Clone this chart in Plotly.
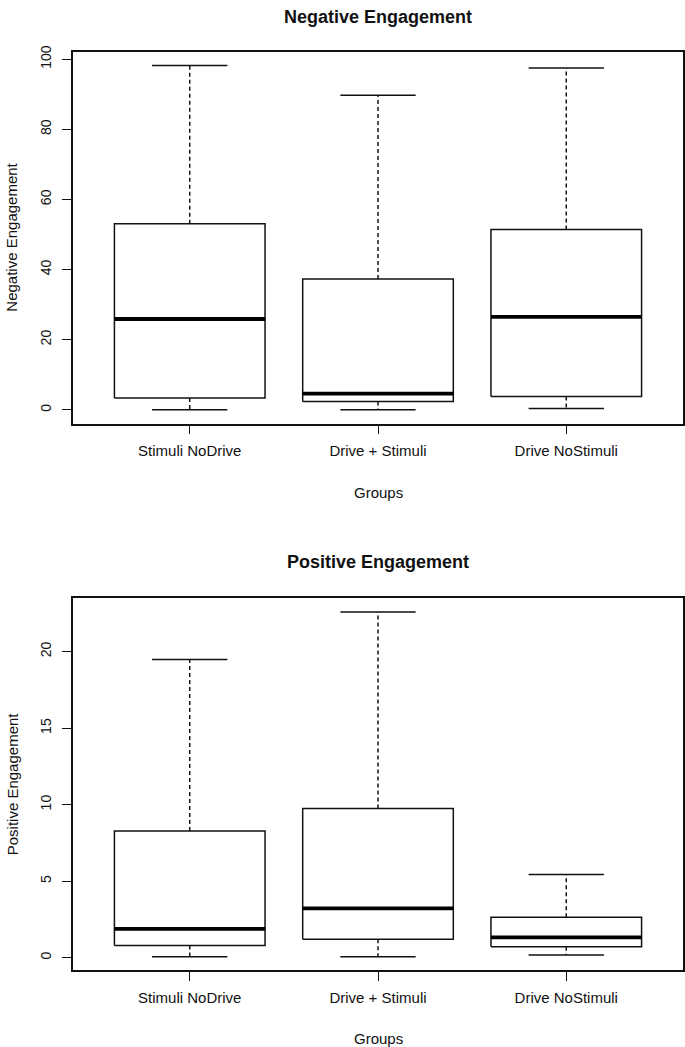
import plotly.graph_objects as go

# ---- data ----
groups = ["Stimuli NoDrive", "Drive + Stimuli", "Drive NoStimuli"]

neg_lower = [0.0, 0.0, 0.4]
neg_q1 = [3.4, 2.4, 3.8]
neg_median = [25.9, 4.6, 26.5]
neg_q3 = [53.1, 37.3, 51.4]
neg_upper = [98.2, 89.7, 97.5]

pos_lower = [0.07, 0.07, 0.18]
pos_q1 = [0.8, 1.2, 0.72]
pos_median = [1.89, 3.23, 1.33]
pos_q3 = [8.28, 9.75, 2.65]
pos_upper = [19.49, 22.6, 5.44]

neg_ticks = [0, 20, 40, 60, 80, 100]
pos_ticks = [0, 5, 10, 15, 20]

# ---- layout constants (pixels) ----
W, H = 685, 1047
FONT = "Liberation Sans, Arial, Helvetica, sans-serif"
BOXW = 0.4
CAPW = 0.2
LC = "#111"

fig = go.Figure()


def add_boxes(xa, ya, lower, q1, med, q3, upper):
    for i, _ in enumerate(groups):
        x = i + 1
        # box
        fig.add_trace(go.Scatter(
            x=[x - BOXW, x + BOXW, x + BOXW, x - BOXW, x - BOXW],
            y=[q1[i], q1[i], q3[i], q3[i], q1[i]],
            mode="lines", line=dict(color=LC, width=1.5),
            xaxis=xa, yaxis=ya, showlegend=False, hoverinfo="skip"))
        # whiskers (dashed)
        fig.add_trace(go.Scatter(
            x=[x, x, None, x, x],
            y=[q3[i], upper[i], None, q1[i], lower[i]],
            mode="lines", line=dict(color=LC, width=1.5, dash="4px,3px"),
            xaxis=xa, yaxis=ya, showlegend=False, hoverinfo="skip"))
        # staples
        fig.add_trace(go.Scatter(
            x=[x - CAPW, x + CAPW, None, x - CAPW, x + CAPW],
            y=[upper[i], upper[i], None, lower[i], lower[i]],
            mode="lines", line=dict(color=LC, width=1.5),
            xaxis=xa, yaxis=ya, showlegend=False, hoverinfo="skip"))
        # median
        fig.add_trace(go.Scatter(
            x=[x - BOXW, x + BOXW], y=[med[i], med[i]],
            mode="lines", line=dict(color="#000", width=3.8),
            xaxis=xa, yaxis=ya, showlegend=False, hoverinfo="skip"))


add_boxes("x", "y", neg_lower, neg_q1, neg_median, neg_q3, neg_upper)
add_boxes("x2", "y2", pos_lower, pos_q1, pos_median, pos_q3, pos_upper)


def yrange(lo, hi):
    a, b = min(lo), max(hi)
    p = 0.04 * (b - a)
    return [a - p, b + p]


xrng = [0.5 - 0.04 * 3, 3.5 + 0.04 * 3]
xdom = [73 / W, 683 / W]
top_dom = [1 - 420 / H, 1 - 46 / H]
bot_dom = [1 - 970 / H, 1 - 595.5 / H]

xcommon = dict(range=xrng, tickvals=[1, 2, 3], ticktext=groups, ticks="outside",
               ticklen=9, tickwidth=1.3, tickcolor=LC, showline=True, mirror=True,
               linecolor=LC, linewidth=1.7, showgrid=False, zeroline=False,
               tickfont=dict(family=FONT, size=15, color=LC), domain=xdom,
               ticklabelstandoff=4)
ycommon = dict(ticks="outside", ticklen=9, tickwidth=1.3, tickcolor=LC, showline=True,
               mirror=True, linecolor=LC, linewidth=1.7, showgrid=False, zeroline=False,
               tickangle=-90, tickfont=dict(family=FONT, size=14, color=LC),
               ticklabelstandoff=6)

fig.update_layout(
    width=W, height=H, margin=dict(l=0, r=0, t=0, b=0),
    paper_bgcolor="white", plot_bgcolor="white",
    xaxis=dict(anchor="y", **xcommon),
    yaxis=dict(anchor="x", domain=top_dom, range=yrange(neg_lower, neg_upper),
               tickvals=neg_ticks, **ycommon),
    xaxis2=dict(anchor="y2", **xcommon),
    yaxis2=dict(anchor="x2", domain=bot_dom, range=yrange(pos_lower, pos_upper),
                tickvals=pos_ticks, **ycommon),
)

cx = (73 + 683) / 2 / W


def ann(text, x, ypx, size, bold=False, angle=0):
    fig.add_annotation(text=f"<b>{text}</b>" if bold else text, xref="paper", yref="paper",
                       x=x, y=1 - ypx / H, showarrow=False, textangle=angle,
                       xanchor="center", yanchor="middle",
                       font=dict(family=FONT, size=size, color=LC))


ann("Negative Engagement", cx, 11, 18, bold=True)
ann("Positive Engagement", cx, 559, 18, bold=True)
ann("Groups", cx, 489, 15)
ann("Groups", cx, 1038, 15)
ann("Negative Engagement", 12 / W, (46 + 420) / 2, 15, angle=-90)
ann("Positive Engagement", 12 / W, (595.5 + 970) / 2, 15, angle=-90)

fig.write_html(
    "out.html",
    config={"displayModeBar": False},
    post_script="document.body.style.margin='0';document.body.style.overflow='hidden';",
)
